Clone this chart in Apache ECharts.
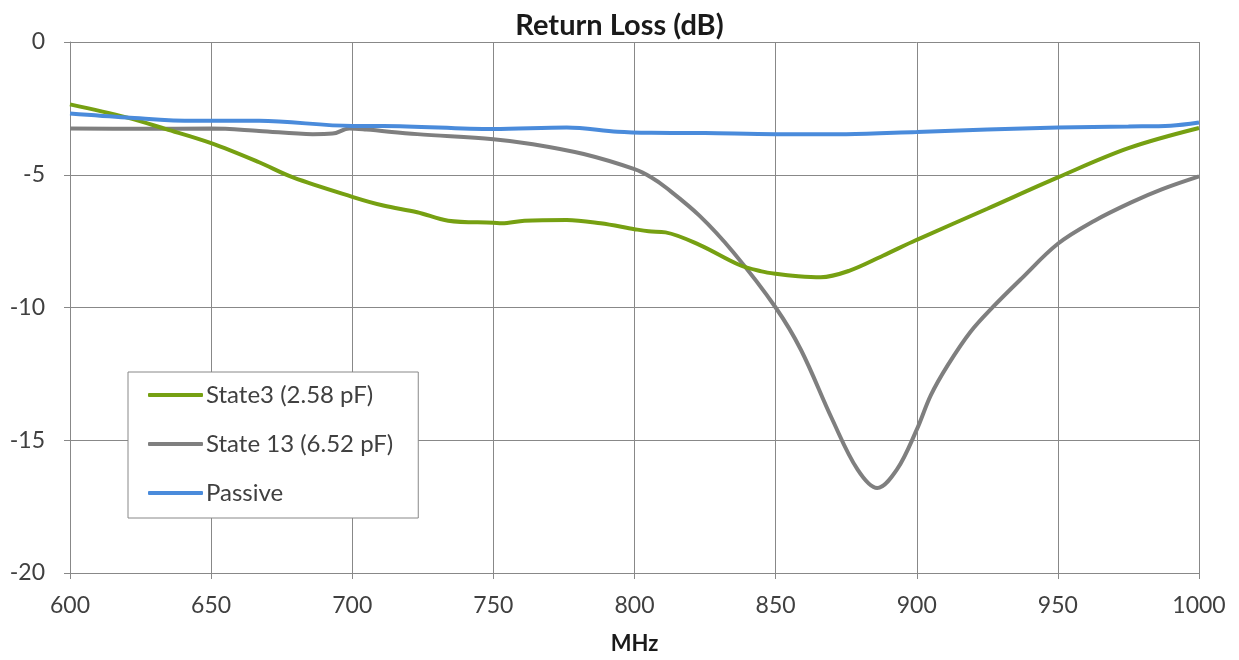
<!DOCTYPE html>
<html>
<head>
<meta charset="utf-8">
<script src="https://cdn.jsdelivr.net/npm/echarts@6/dist/echarts.min.js"></script>
<style>
html,body{margin:0;padding:0;background:#fff;}
#chart{width:1239px;height:660px;}
</style>
</head>
<body>
<div id="chart"></div>
<script>
const titleText = 'Return Loss (dB)';
const xName = 'MHz';
const seriesNames = ['State3 (2.58 pF)', 'State 13 (6.52 pF)', 'Passive'];

const freqGreen = [600,620,634,650,667,679,700,711,723,734,750,753,761,776,788,800,805,811,823,837,845,850,858,866,876,888,900,925,950,975,1000];
const valGreen  = [-2.35,-2.84,-3.28,-3.81,-4.53,-5.1,-5.83,-6.16,-6.41,-6.73,-6.81,-6.83,-6.73,-6.7,-6.83,-7.05,-7.13,-7.17,-7.64,-8.39,-8.64,-8.73,-8.82,-8.86,-8.62,-8.05,-7.45,-6.28,-5.1,-4.0,-3.24];

const freqGrey = [600,625,650,667,686,693,699,705,723,750,764,782,800,806,811,823,835,850,859,870,879,886,893,900,905,911,919,927,937,950,963,976,987,1000];
const valGrey  = [-3.26,-3.27,-3.26,-3.35,-3.47,-3.45,-3.26,-3.3,-3.47,-3.66,-3.85,-4.22,-4.79,-5.1,-5.47,-6.54,-7.92,-10.0,-11.6,-14.2,-16.1,-16.8,-16.1,-14.6,-13.3,-12.17,-10.92,-9.98,-8.92,-7.6,-6.73,-6.04,-5.54,-5.06];

const freqBlue = [600,620,644,667,700,711,750,776,794,806,825,850,875,900,925,950,975,990,1000];
const valBlue  = [-2.69,-2.84,-2.97,-2.97,-3.16,-3.16,-3.28,-3.22,-3.38,-3.42,-3.43,-3.47,-3.47,-3.39,-3.3,-3.22,-3.18,-3.15,-3.03];

const colors = ['#76A012', '#7F7F7F', '#4A8BDB'];

function pairs(xs, ys){ return xs.map((x,i)=>[x, ys[i]]); }

const FONT = 'Lato, "Open Sans", sans-serif';
const chart = echarts.init(document.getElementById('chart'));
chart.setOption({
  animation: false,
  backgroundColor: '#ffffff',
  title: {
    text: titleText, left: 'center', top: 6,
    textStyle: {fontFamily: FONT, fontSize: 29, fontWeight: 'bold', color: '#1a1a1a'}
  },
  grid: {left: 70, right: 40, top: 42, bottom: 84},
  legend: {
    orient: 'vertical', left: 128, top: 372,
    data: seriesNames,
    backgroundColor: '#ffffff',
    borderColor: '#888888', borderWidth: 1,
    padding: [11, 25, 13, 20],
    itemGap: 25, itemWidth: 55, itemHeight: 4,
    icon: 'roundRect',
    textStyle: {fontFamily: FONT, fontSize: 24, color: '#404040', padding: [0,0,0,-2]}
  },
  xAxis: {
    type: 'value', min: 600, max: 1000, interval: 50,
    name: xName, nameLocation: 'middle', nameGap: 60,
    nameTextStyle: {fontFamily: FONT, fontSize: 22, fontWeight: 'bold', color: '#1a1a1a'},
    axisLine: {show: true, onZero: false, lineStyle: {color: '#888888', width: 1}},
    axisTick: {show: true, length: 6, lineStyle: {color: '#888888'}},
    axisLabel: {fontFamily: FONT, fontSize: 23, color: '#404040', margin: 21, formatter: v => String(v)},
    splitLine: {show: true, lineStyle: {color: '#888888', width: 1}}
  },
  yAxis: {
    type: 'value', min: -20, max: 0, interval: 5,
    axisLine: {show: true, lineStyle: {color: '#888888', width: 1}},
    axisTick: {show: true, length: 6, lineStyle: {color: '#888888'}},
    axisLabel: {fontFamily: FONT, fontSize: 23, color: '#404040', margin: 25, formatter: v => String(v)},
    splitLine: {show: true, lineStyle: {color: '#888888', width: 1}}
  },
  series: [
    {name: seriesNames[0], type: 'line', data: pairs(freqGreen, valGreen), smooth: 0.35, showSymbol: false, z: 3,
     lineStyle: {color: colors[0], width: 4}, itemStyle: {color: colors[0]}},
    {name: seriesNames[1], type: 'line', data: pairs(freqGrey, valGrey), smooth: 0.35, showSymbol: false, z: 2,
     lineStyle: {color: colors[1], width: 4}, itemStyle: {color: colors[1]}},
    {name: seriesNames[2], type: 'line', data: pairs(freqBlue, valBlue), smooth: 0.35, showSymbol: false, z: 4,
     lineStyle: {color: colors[2], width: 4}, itemStyle: {color: colors[2]}}
  ]
});
</script>
</body>
</html>
